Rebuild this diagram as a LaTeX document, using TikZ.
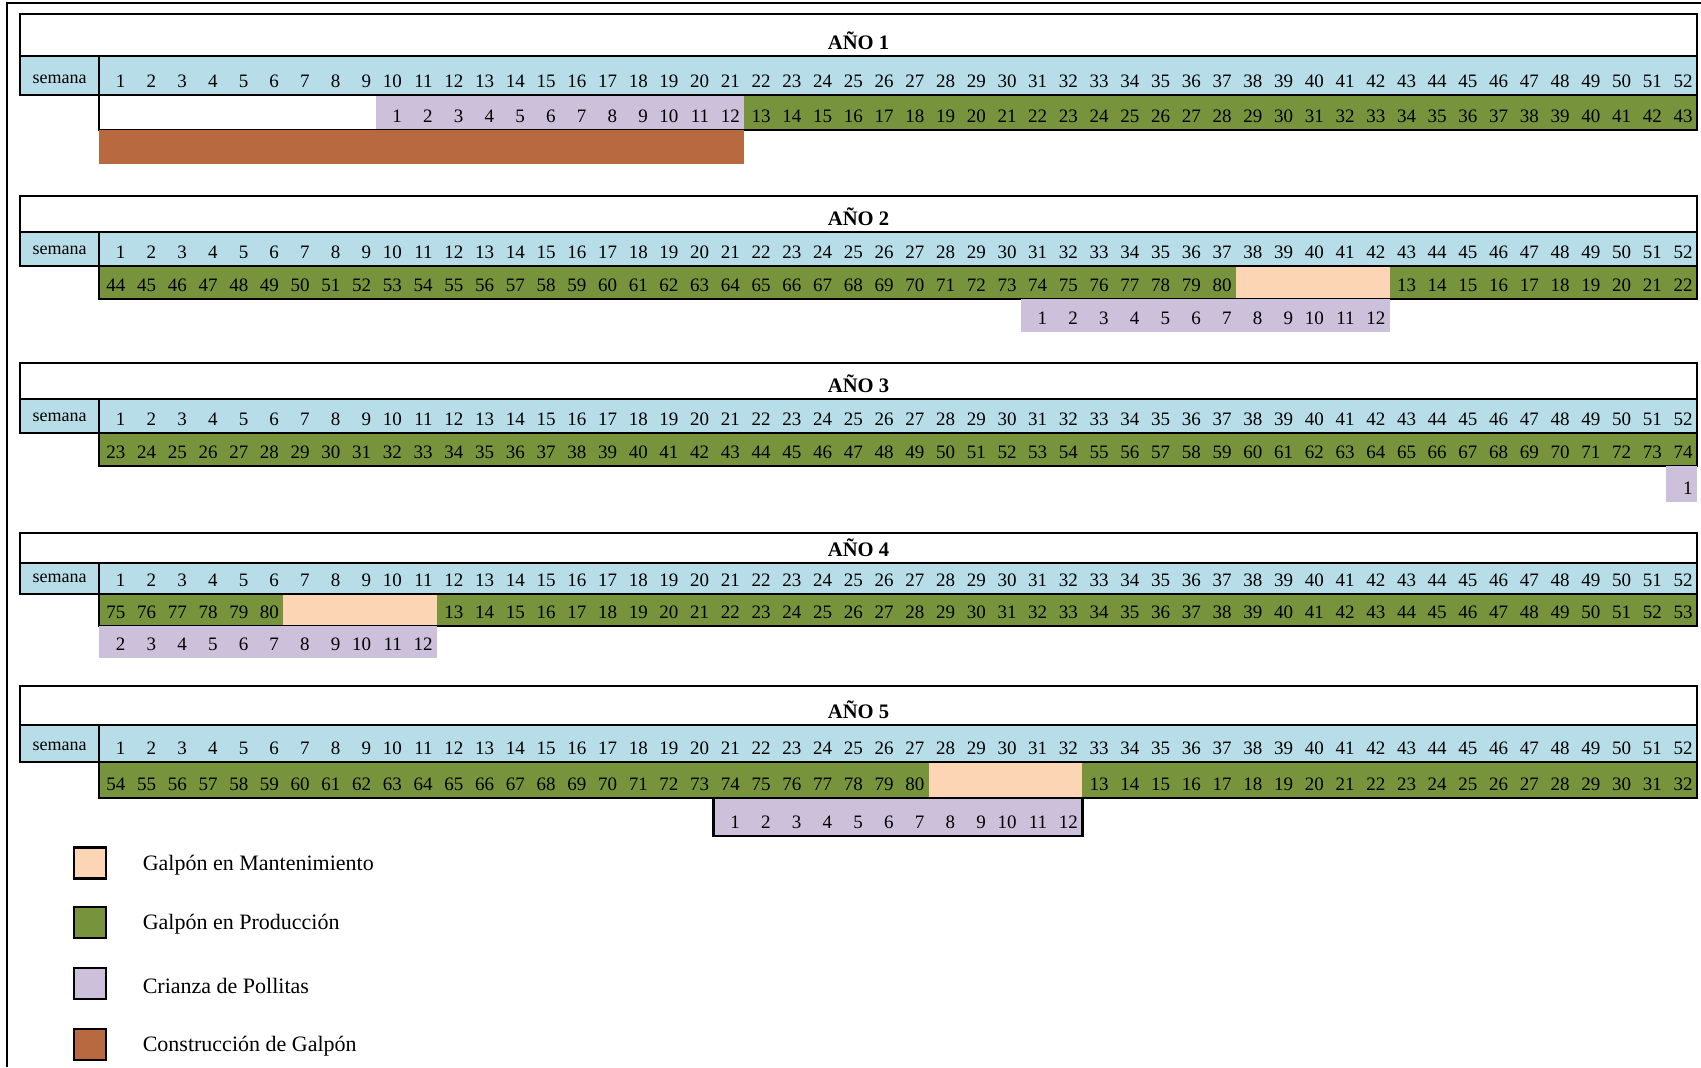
\documentclass[tikz,border=0pt]{standalone}
\usepackage{fontspec}
\setmainfont{Liberation Serif}
\usetikzlibrary{positioning}

\definecolor{semcol}{HTML}{B7DEE8}
\definecolor{prodcol}{HTML}{77933C}
\definecolor{crizcol}{HTML}{CCC0DA}
\definecolor{mantcol}{HTML}{FCD5B4}
\definecolor{constcol}{HTML}{B8693F}

\newcommand{\colw}{30.73}
% header of one year: #1 year, #2 top, #3 semana top, #4 semana bottom
\newcommand{\yearhead}[4]{%
  \fill[semcol] (20,#3) rectangle (1697,#4);
  \node[titletxt, anchor=base] (ano#1) at (858.5,#3-7) {AÑO #1};
  \node[semtxt, anchor=base] (sem#1) at (59.5,#4-12) {semana};
  \foreach \c in {1,...,52}{
    \node[num, anchor=base east] (w#1-\c) at ({99+\c*\colw-4},#4-8) {\c};
  }
  \draw[frame] (20,#2) rectangle (1697,#4);
  \draw[frame] (20,#3) -- (1697,#3);
  \draw[frame] (99,#3) -- (99,#4);
}
% numbered cells: #1 top, #2 bottom, #3 first col, #4 last col, #5 first number, #6 fill, #7 name prefix
\newcommand{\weekrun}[7]{%
  \fill[#6] ({99+(#3-1)*\colw},#1) rectangle ({99+#4*\colw},#2);
  \foreach \c in {#3,...,#4}{
    \pgfmathtruncatemacro{\n}{\c-#3+#5}
    \node[num, anchor=base east] (#7\c) at ({99+\c*\colw-4},#2-8) {\n};
  }
}

\begin{document}
\begin{tikzpicture}[x=0.5pt, y=-0.5pt,
    frame/.style={line width=1.4pt},
    num/.style={inner sep=0pt, font=\fontsize{9.5}{11}\selectfont},
    semtxt/.style={inner sep=0pt, font=\fontsize{9}{10}\selectfont},
    titletxt/.style={inner sep=0pt, font=\fontsize{10.3}{12}\selectfont\bfseries},
    legbox/.style={draw, line width=1.4pt, minimum width=16pt, minimum height=15.5pt, inner sep=0pt},
    legtxt/.style={inner sep=0pt, yshift=-1pt, font=\fontsize{11}{13}\selectfont}]
    \useasboundingbox (0,0) rectangle (1701,1067);
    \draw[line width=1pt] (7,1067) -- (7,3) -- (1701,3);

    % year 1
    \yearhead{1}{14}{56}{95}
    \weekrun{95}{130}{10}{21}{1}{crizcol}{d1-}
    \weekrun{95}{130}{22}{52}{13}{prodcol}{d1-}
    \draw[frame] (99,95) rectangle (1697,130);
    \fill[constcol] (99,130) rectangle ({99+21*\colw},164);

    % year 2
    \yearhead{2}{196}{232}{266}
    \weekrun{266}{299}{1}{37}{44}{prodcol}{d2-}
    \fill[mantcol] ({99+37*\colw},266) rectangle ({99+42*\colw},299);
    \weekrun{266}{299}{43}{52}{13}{prodcol}{d2-}
    \draw[frame] (99,266) rectangle (1697,299);
    \weekrun{299}{332}{31}{42}{1}{crizcol}{e2-}

    % year 3
    \yearhead{3}{363}{399}{433}
    \weekrun{433}{466}{1}{52}{23}{prodcol}{d3-}
    \draw[frame] (99,433) rectangle (1697,466);
    \weekrun{466}{502}{52}{52}{1}{crizcol}{e3-}

    % year 4
    \yearhead{4}{533}{563}{594}
    \weekrun{594}{626}{1}{6}{75}{prodcol}{d4-}
    \fill[mantcol] ({99+6*\colw},594) rectangle ({99+11*\colw},626);
    \weekrun{594}{626}{12}{52}{13}{prodcol}{d4-}
    \draw[frame] (99,594) rectangle (1697,626);
    \weekrun{626}{658}{1}{11}{2}{crizcol}{e4-}

    % year 5
    \yearhead{5}{686}{725}{762}
    \weekrun{762}{798}{1}{27}{54}{prodcol}{d5-}
    \fill[mantcol] ({99+27*\colw},762) rectangle ({99+32*\colw},798);
    \weekrun{762}{798}{33}{52}{13}{prodcol}{d5-}
    \draw[frame] (99,762) rectangle (1697,798);
    \weekrun{798}{836}{21}{32}{1}{crizcol}{e5-}
    \draw[frame] ({99+20*\colw},798) rectangle ({99+32*\colw},836);

    % legend
    \node[legbox, fill=mantcol] (lmant) at (90,863) {};
    \node[legbox, fill=prodcol] (lprod) at (90,922.5) {};
    \node[legbox, fill=crizcol] (lcriz) at (90,983.5) {};
    \node[legbox, fill=constcol] (lcons) at (90,1044.5) {};
    \node[legtxt, right=17.5pt of lmant] (tmant) {Galpón en Mantenimiento};
    \node[legtxt, right=17.5pt of lprod] (tprod) {Galpón en Producción};
    \node[legtxt, right=17.5pt of lcriz] (tcriz) {Crianza de Pollitas};
    \node[legtxt, right=17.5pt of lcons] (tcons) {Construcción de Galpón};
\end{tikzpicture}
\end{document}
